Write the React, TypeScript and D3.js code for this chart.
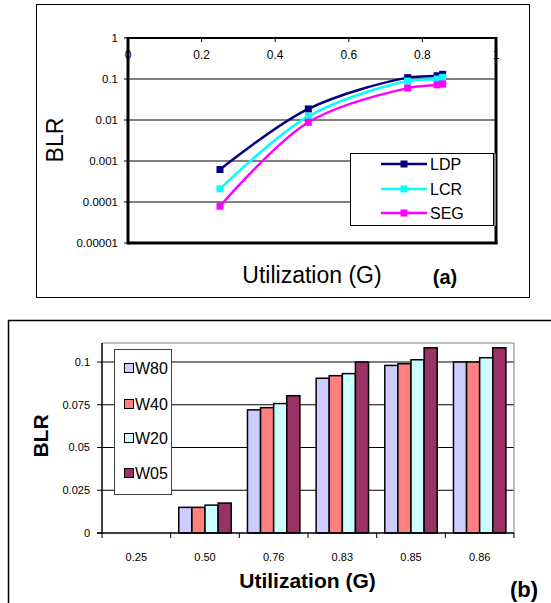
import React from 'react';
import * as d3 from 'd3';

// --- chart (a): BLR vs utilization, log scale ---
const utilA = [0.25, 0.49, 0.76, 0.84, 0.855];
const ldp = [0.00062, 0.0186, 0.108, 0.12, 0.13];
const lcr = [0.00021, 0.0123, 0.089, 0.1, 0.11];
const seg = [0.000079, 0.0088, 0.06, 0.072, 0.076];
const lineNames = ['LDP', 'LCR', 'SEG'];
const lineColors = ['#000080', '#00FFFF', '#FF00FF'];
const logTicks = [1, 0.1, 0.01, 0.001, 0.0001, 0.00001];
const logTickLabels = ['1', '0.1', '0.01', '0.001', '0.0001', '0.00001'];
const xTicksA = [0, 0.2, 0.4, 0.6, 0.8, 1];
const xTickLabelsA = ['0', '0.2', '0.4', '0.6', '0.8', '1'];

// --- chart (b): BLR per window size ---
const categories = ['0.25', '0.50', '0.76', '0.83', '0.85', '0.86'];
const barNames = ['W80', 'W40', 'W20', 'W05'];
const w80 = [0, 0.015, 0.072, 0.0905, 0.098, 0.1];
const w40 = [0, 0.015, 0.0733, 0.092, 0.099, 0.1];
const w20 = [0, 0.0163, 0.0757, 0.0932, 0.1013, 0.1025];
const w05 = [0, 0.0175, 0.0803, 0.1, 0.1083, 0.1083];
const barColors = ['#CCCCFF', '#FF8080', '#CCFFFF', '#993366'];
const linTicks = [0, 0.025, 0.05, 0.075, 0.1];
const linTickLabels = ['0', '0.025', '0.05', '0.075', '0.1'];

const FONT = 'Arial, "Liberation Sans", sans-serif';

function ChartA() {
  const L = 128, R = 496, T = 38, B = 243;
  const x = d3.scaleLinear().domain([0, 1]).range([L, R]);
  const y = d3.scaleLog().domain([0.00001, 1]).range([B, T]);
  const series = [ldp, lcr, seg];
  const line = d3.line<number>()
    .x((_, i) => x(utilA[i]))
    .y(d => y(d))
    .curve(d3.curveCatmullRom.alpha(0.5));

  const legY = [164, 189, 213];

  return (
    <g fontFamily={FONT}>
      <rect x={36.5} y={4.5} width={493} height={293} fill="white" stroke="#000" strokeWidth={1} />
      {/* gridlines */}
      {logTicks.slice(1, -1).map(t => (
        <line key={t} x1={L} x2={R} y1={y(t)} y2={y(t)} stroke="#000" strokeWidth={1} />
      ))}
      {/* y labels */}
      {logTicks.map((t, i) => (
        <g key={'yl' + t}>
          <line x1={L - 4} x2={L} y1={y(t)} y2={y(t)} stroke="#000" />
          <text x={L - 10} y={y(t)} dy="0.35em" textAnchor="end" fontSize={11.5} fill="#000">{logTickLabels[i]}</text>
        </g>
      ))}
      {/* x labels at top */}
      {xTicksA.map((t, i) => (
        <g key={'xl' + t}>
          <line x1={x(t)} x2={x(t)} y1={T} y2={T + 4} stroke="#000" />
          <text x={x(t)} y={59} textAnchor="middle" fontSize={12} fill="#000">{xTickLabelsA[i]}</text>
        </g>
      ))}
      {/* frame */}
      <line x1={L} x2={R} y1={T} y2={T} stroke="#000" strokeWidth={2} />
      <line x1={R} x2={R} y1={T - 1} y2={B + 1} stroke="#000" strokeWidth={3} />
      <line x1={L} x2={L} y1={T - 1} y2={B + 1.5} stroke="#000" strokeWidth={3} />
      <line x1={L} x2={R + 1.5} y1={B} y2={B} stroke="#000" strokeWidth={3} />
      {/* lines */}
      {series.map((s, k) => (
        <g key={lineNames[k]}>
          <path d={line(s) || ''} fill="none" stroke={lineColors[k]} strokeWidth={2.5} />
          {s.map((v, i) => (
            <rect key={i} x={x(utilA[i]) - 3.5} y={y(v) - 3.5} width={7} height={7} fill={lineColors[k]} />
          ))}
        </g>
      ))}
      {/* legend */}
      <rect x={350.5} y={153.5} width={143} height={72} fill="white" stroke="#000" strokeWidth={1} />
      <line x1={495} x2={495} y1={154} y2={226} stroke="#808080" strokeWidth={2} />
      {lineNames.map((n, k) => (
        <g key={'lg' + n}>
          <line x1={381} x2={427} y1={legY[k]} y2={legY[k]} stroke={lineColors[k]} strokeWidth={2.5} />
          <rect x={400.5} y={legY[k] - 3.5} width={7} height={7} fill={lineColors[k]} />
          <text x={430} y={legY[k]} dy="0.36em" fontSize={16} fill="#000">{n}</text>
        </g>
      ))}
      {/* titles */}
      <text transform="translate(63,140) rotate(-90)" textAnchor="middle" fontSize={23} fill="#000">BLR</text>
      <text x={312} y={283} textAnchor="middle" fontSize={23} fill="#000">Utilization (G)</text>
      <text x={445} y={284} textAnchor="middle" fontSize={20} fontWeight="bold" fill="#000">(a)</text>
    </g>
  );
}

function ChartB() {
  const L = 102, R = 514, T = 343, B = 533;
  const y = d3.scaleLinear().domain([0, 0.1]).range([B, 362]);
  const x0 = d3.scaleBand<string>().domain(categories).range([L, R]);
  const x1 = d3.scaleBand<string>().domain(barNames).range([0, x0.bandwidth()]).paddingOuter(0.62);
  const values = [w80, w40, w20, w05];
  const legY = [368, 404, 438, 473];

  return (
    <g fontFamily={FONT}>
      <rect x={8.5} y={320.5} width={620} height={400} fill="white" stroke="#000" strokeWidth={1.5} />
      {/* gridlines */}
      {linTicks.slice(1).map(t => (
        <line key={t} x1={L} x2={R} y1={y(t)} y2={y(t)} stroke="#000" strokeWidth={1} />
      ))}
      {/* plot frame top/right */}
      <line x1={L} x2={R} y1={T} y2={T} stroke="#808080" strokeWidth={1} />
      <line x1={R} x2={R} y1={T} y2={B} stroke="#808080" strokeWidth={1} />
      {/* y ticks */}
      {linTicks.map((t, i) => (
        <g key={'yt' + t}>
          <line x1={L - 5} x2={L} y1={y(t)} y2={y(t)} stroke="#000" />
          <text x={L - 12} y={y(t)} dy="0.35em" textAnchor="end" fontSize={11} fill="#000">{linTickLabels[i]}</text>
        </g>
      ))}
      {/* bars */}
      {categories.map((c, ci) => (
        <g key={c} transform={`translate(${x0(c)},0)`}>
          {barNames.map((n, k) => {
            const v = values[k][ci];
            if (!v) return null;
            return (
              <rect key={n} x={x1(n)} y={y(v)} width={x1.bandwidth()} height={B - y(v)}
                fill={barColors[k]} stroke="#000" strokeWidth={1.5} />
            );
          })}
        </g>
      ))}
      {/* x ticks and labels */}
      {categories.map(c => (
        <text key={'xl' + c} x={(x0(c) || 0) + x0.bandwidth() / 2} y={561} textAnchor="middle" fontSize={11} fill="#000">{c}</text>
      ))}
      {[...categories.map(c => x0(c) || 0), R].map((px, i) => (
        <line key={'xt' + i} x1={px} x2={px} y1={B} y2={B + 5} stroke="#000" />
      ))}
      {/* axes */}
      <line x1={L} x2={L} y1={T} y2={B} stroke="#000" strokeWidth={1.5} />
      <line x1={L - 5} x2={R} y1={B} y2={B} stroke="#000" strokeWidth={1.5} />
      {/* legend */}
      <rect x={114.5} y={349.5} width={57} height={145} fill="white" stroke="#404040" strokeWidth={1} />
      {barNames.map((n, k) => (
        <g key={'lg' + n}>
          <rect x={124.5} y={legY[k] - 4.5} width={9} height={9} fill={barColors[k]} stroke="#000" strokeWidth={1} />
          <text x={135} y={legY[k]} dy="0.36em" fontSize={16} fill="#000">{n}</text>
        </g>
      ))}
      {/* titles */}
      <text transform="translate(48,436) rotate(-90)" textAnchor="middle" fontSize={21} fontWeight="bold" fill="#000">BLR</text>
      <text x={307.5} y={588} textAnchor="middle" fontSize={21} fontWeight="bold" fill="#000">Utilization (G)</text>
      <text x={524} y={597} textAnchor="middle" fontSize={22} fontWeight="bold" fill="#000">(b)</text>
    </g>
  );
}

export default function App() {
  return (
    <svg width={551} height={603} style={{ position: 'absolute', left: 0, top: 0, background: 'white' }}>
      <rect width={551} height={603} fill="white" />
      <ChartA />
      <ChartB />
    </svg>
  );
}
